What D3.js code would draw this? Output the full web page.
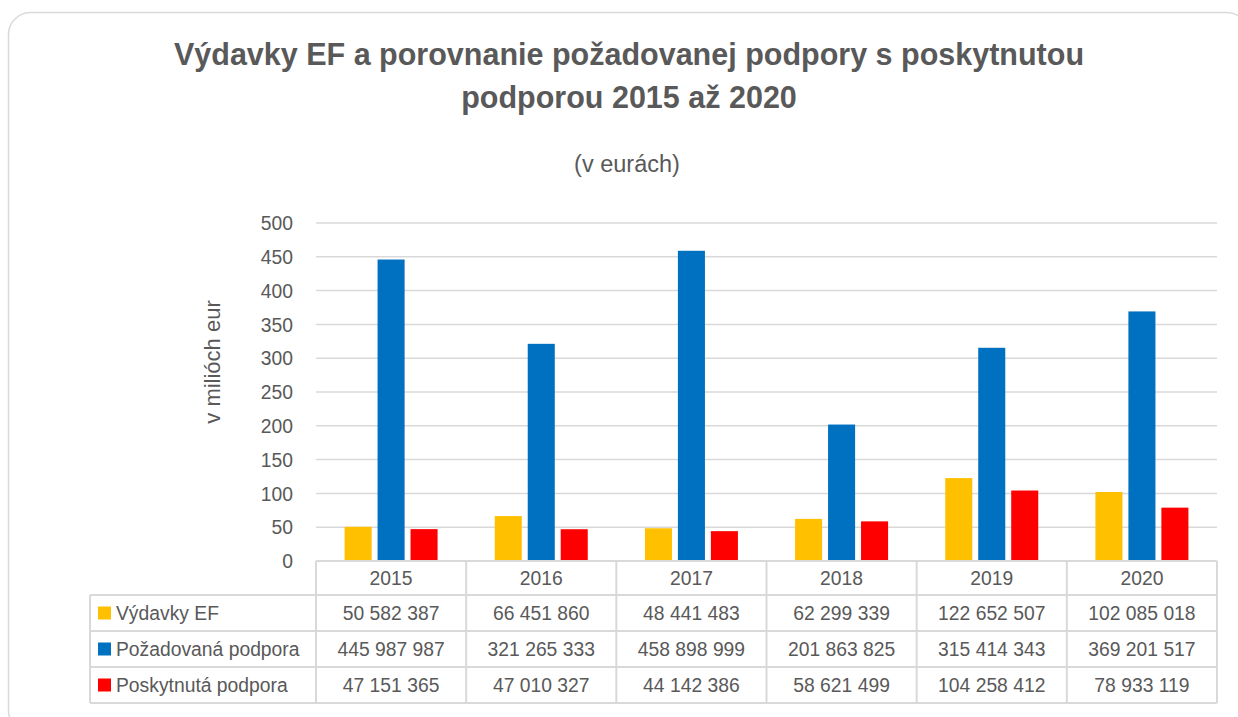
<!DOCTYPE html>
<html>
<head>
<meta charset="utf-8">
<script src="https://cdn.jsdelivr.net/npm/d3@7"></script>
<style>
  body { margin: 0; background: #fff; }
  svg { display: block; font-family: "Liberation Sans", Arial, sans-serif; }
</style>
</head>
<body>
<svg id="chart" width="1238" height="717"></svg>
<script>
var years = ["2015", "2016", "2017", "2018", "2019", "2020"];
var seriesNames = ["Výdavky EF", "Požadovaná podpora", "Poskytnutá podpora"];
var vydavkyEF = [50582387, 66451860, 48441483, 62299339, 122652507, 102085018];
var pozadovanaPodpora = [445987987, 321265333, 458898999, 201863825, 315414343, 369201517];
var poskytnutaPodpora = [47151365, 47010327, 44142386, 58621499, 104258412, 78933119];
var seriesColors = ["#FFC000", "#0070C0", "#FF0000"];

var allSeries = [vydavkyEF, pozadovanaPodpora, poskytnutaPodpora];
var textColor = "#595959";
var lineColor = "#d9d9d9";
var bodySize = "21px";
var sx = 0.92; // body text is a bit narrow in the original

// place a text at (x,y) with a slight horizontal squeeze
function place(sel, xf, yf) {
  sel.attr("transform", function(d, i) {
    var xx = typeof xf === "function" ? xf(d, i) : xf;
    var yy = typeof yf === "function" ? yf(d, i) : yf;
    return "translate(" + xx + "," + yy + ") scale(" + sx + ",1)";
  });
}

function drawChart() {
  var svg = d3.select("#chart");

  var left = 316, right = 1217, top = 223, bottom = 561;
  var legendLeft = 90;
  var headerH = 34, rowH = 36;

  // outer rounded frame
  svg.append("rect")
    .attr("x", 8.5)
    .attr("y", 12.5)
    .attr("width", 1240)
    .attr("height", 720)
    .attr("rx", 22)
    .attr("fill", "#fff")
    .attr("stroke", lineColor)
    .attr("stroke-width", 1.5);

  // title
  var title = svg.append("text")
    .attr("text-anchor", "middle")
    .attr("fill", textColor)
    .style("font-weight", "bold")
    .style("font-size", "30.5px");
  title.append("tspan").attr("x", 629).attr("y", 65)
    .text("Výdavky EF a porovnanie požadovanej podpory s poskytnutou");
  title.append("tspan").attr("x", 629).attr("y", 108)
    .text("podporou 2015 až 2020");

  svg.append("text")
    .attr("x", 627)
    .attr("y", 172)
    .attr("text-anchor", "middle")
    .attr("fill", textColor)
    .style("font-size", "23.5px")
    .text("(v eurách)");

  var x0 = d3.scaleBand()
    .domain(years)
    .range([left, right]);

  var groupW = 93;
  var x1 = d3.scaleBand()
    .domain(d3.range(seriesNames.length))
    .range([0, groupW])
    .paddingInner(0.18);

  var y = d3.scaleLinear()
    .domain([0, 500])
    .range([bottom, top]);

  // gridlines
  svg.append("g")
    .selectAll("line")
    .data(y.ticks(10).filter(d => d > 0))
    .enter()
    .append("line")
      .attr("x1", left)
      .attr("x2", right)
      .attr("y1", d => y(d))
      .attr("y2", d => y(d))
      .attr("stroke", lineColor)
      .attr("stroke-width", 1.5);

  // y axis labels
  var yAxis = svg.append("g")
    .attr("transform", "translate(" + left + ",0)")
    .call(d3.axisLeft(y).ticks(10).tickSize(0).tickPadding(23));
  yAxis.select(".domain").remove();
  yAxis.selectAll("text")
    .attr("x", -23 / sx)
    .attr("transform", "scale(" + sx + ",1)")
    .attr("fill", textColor)
    .style("font-size", bodySize)
    .style("font-family", "'Liberation Sans', Arial, sans-serif");

  svg.append("text")
    .attr("transform", "translate(220,362) rotate(-90)")
    .attr("text-anchor", "middle")
    .attr("fill", textColor)
    .style("font-size", "22px")
    .text("v milióch eur");

  // bars
  var groups = svg.append("g")
    .selectAll("g")
    .data(allSeries)
    .enter()
    .append("g")
      .attr("fill", (d, i) => seriesColors[i]);

  groups.selectAll("rect")
    .data((d, i) => d.map((v, j) => ({ s: i, year: years[j], value: v / 1e6 })))
    .enter()
    .append("rect")
      .attr("x", d => x0(d.year) + (x0.bandwidth() - groupW) / 2 + x1(d.s))
      .attr("y", d => y(d.value))
      .attr("width", x1.bandwidth())
      .attr("height", d => y(0) - y(d.value));

  // data table
  var table = svg.append("g");
  var tableBottom = bottom + headerH + rowH * seriesNames.length;
  var fmt = v => d3.format(",")(v).replace(/,/g, " ");

  // horizontal lines
  table.append("line")
    .attr("x1", left).attr("x2", right)
    .attr("y1", bottom).attr("y2", bottom);
  d3.range(seriesNames.length + 1).forEach(function(i) {
    table.append("line")
      .attr("x1", legendLeft).attr("x2", right)
      .attr("y1", bottom + headerH + i * rowH)
      .attr("y2", bottom + headerH + i * rowH);
  });
  // vertical lines
  table.append("line")
    .attr("x1", legendLeft).attr("x2", legendLeft)
    .attr("y1", bottom + headerH).attr("y2", tableBottom);
  years.concat(["end"]).forEach(function(yr) {
    var xx = yr === "end" ? right : x0(yr);
    table.append("line")
      .attr("x1", xx).attr("x2", xx)
      .attr("y1", bottom).attr("y2", tableBottom);
  });
  table.selectAll("line")
    .attr("stroke", lineColor)
    .attr("stroke-width", 2);

  // header years
  table.selectAll(".year")
    .data(years)
    .enter()
    .append("text")
      .attr("class", "year")
      .attr("dy", "0.35em")
      .attr("text-anchor", "middle")
      .attr("fill", textColor)
      .style("font-size", bodySize)
      .text(d => d)
      .call(place, d => x0(d) + x0.bandwidth() / 2, bottom + headerH / 2);

  // rows
  seriesNames.forEach(function(name, i) {
    var cy = bottom + headerH + i * rowH + rowH / 2;
    table.append("rect")
      .attr("x", 98)
      .attr("y", cy - 6.5)
      .attr("width", 13)
      .attr("height", 13)
      .attr("fill", seriesColors[i]);
    table.append("text")
      .attr("dy", "0.35em")
      .attr("fill", textColor)
      .style("font-size", bodySize)
      .text(name)
      .call(place, 116, cy);
    table.selectAll(".v" + i)
      .data(allSeries[i])
      .enter()
      .append("text")
        .attr("class", "v" + i)
        .attr("dy", "0.35em")
        .attr("text-anchor", "middle")
        .attr("fill", textColor)
        .style("font-size", bodySize)
        .text(d => fmt(d))
        .call(place, (d, j) => x0(years[j]) + x0.bandwidth() / 2, cy);
  });
}

drawChart();
</script>
</body>
</html>
